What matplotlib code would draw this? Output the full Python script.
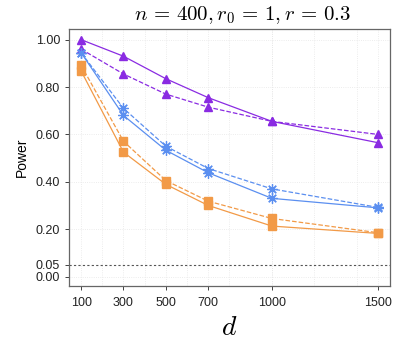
import numpy as np
import matplotlib.pyplot as plt

plt.rcParams['font.family'] = ['Liberation Sans', 'DejaVu Sans']
plt.rcParams['mathtext.fontset'] = 'cm'

# данные
d = [100, 300, 500, 700, 1000, 1500]
xticks = [100, 300, 500, 700, 1000, 1500]
yticks = [0.00, 0.05, 0.20, 0.40, 0.60, 0.80, 1.00]

purple_solid = [1.00, 0.93, 0.835, 0.755, 0.655, 0.565]
purple_dash = [0.96, 0.855, 0.77, 0.715, 0.655, 0.60]
blue_solid = [0.945, 0.68, 0.533, 0.438, 0.33, 0.29]
blue_dash = [0.945, 0.71, 0.55, 0.456, 0.37, 0.292]
orange_solid = [0.868, 0.525, 0.389, 0.30, 0.213, 0.182]
orange_dash = [0.892, 0.571, 0.405, 0.318, 0.245, 0.185]

c_purple = '#8a2be2'
c_blue = '#5b8ff0'
c_orange = '#f29a47'

fig = plt.figure(figsize=(4.2, 3.46), dpi=100)
ax = fig.add_axes([69 / 420, 1 - 286 / 346, 321 / 420, 257 / 346])

# сетка
for gx in range(200, 1500, 200):
    ax.axvline(gx, color='#e6e6e6', lw=0.6, ls=':', zorder=0)
for gx in xticks:
    ax.axvline(gx, color='#e6e6e6', lw=0.6, ls=':', zorder=0)
for gy in [0.0, 0.2, 0.4, 0.6, 0.8, 1.0]:
    ax.axhline(gy, color='#e6e6e6', lw=0.6, ls=':', zorder=0)

ax.axhline(0.05, color='#555555', lw=0.8, ls=(0, (2, 2)), zorder=1)

ms = 6
ax.plot(d, purple_solid, '-', color=c_purple, lw=0.9, marker='^', ms=ms)
ax.plot(d, purple_dash, '--', color=c_purple, lw=0.9, marker='^', ms=ms)
ax.plot(d, blue_solid, '-', color=c_blue, lw=0.9, marker=(8, 2, 0), ms=7.5, mew=0.9)
ax.plot(d, blue_dash, '--', color=c_blue, lw=0.9, marker=(8, 2, 0), ms=7.5, mew=0.9)
ax.plot(d, orange_solid, '-', color=c_orange, lw=0.9, marker='s', ms=ms)
ax.plot(d, orange_dash, '--', color=c_orange, lw=0.9, marker='s', ms=ms)

ax.set_xlim(43, 1557)
ax.set_ylim(-0.04, 1.045)
ax.set_xticks(xticks)
ax.set_yticks(yticks)
ax.set_yticklabels([f'{v:.2f}' for v in yticks])
ax.tick_params(labelsize=9, colors='#222222', length=3, width=0.6)
ax.tick_params(axis='x', pad=5)
for s in ax.spines.values():
    s.set_color('#666666')
    s.set_linewidth(0.9)

ax.set_ylabel('Power', fontsize=10, labelpad=5)
ax.set_xlabel('$d$', fontsize=20, labelpad=4)
fig.text(242 / 420, 1 - 15 / 346, r'$n\,=\,400, r_0\,=\,1, r\,=\,0.3$', fontsize=15,
         ha='center', va='center')

plt.savefig('out.png', dpi=100)
